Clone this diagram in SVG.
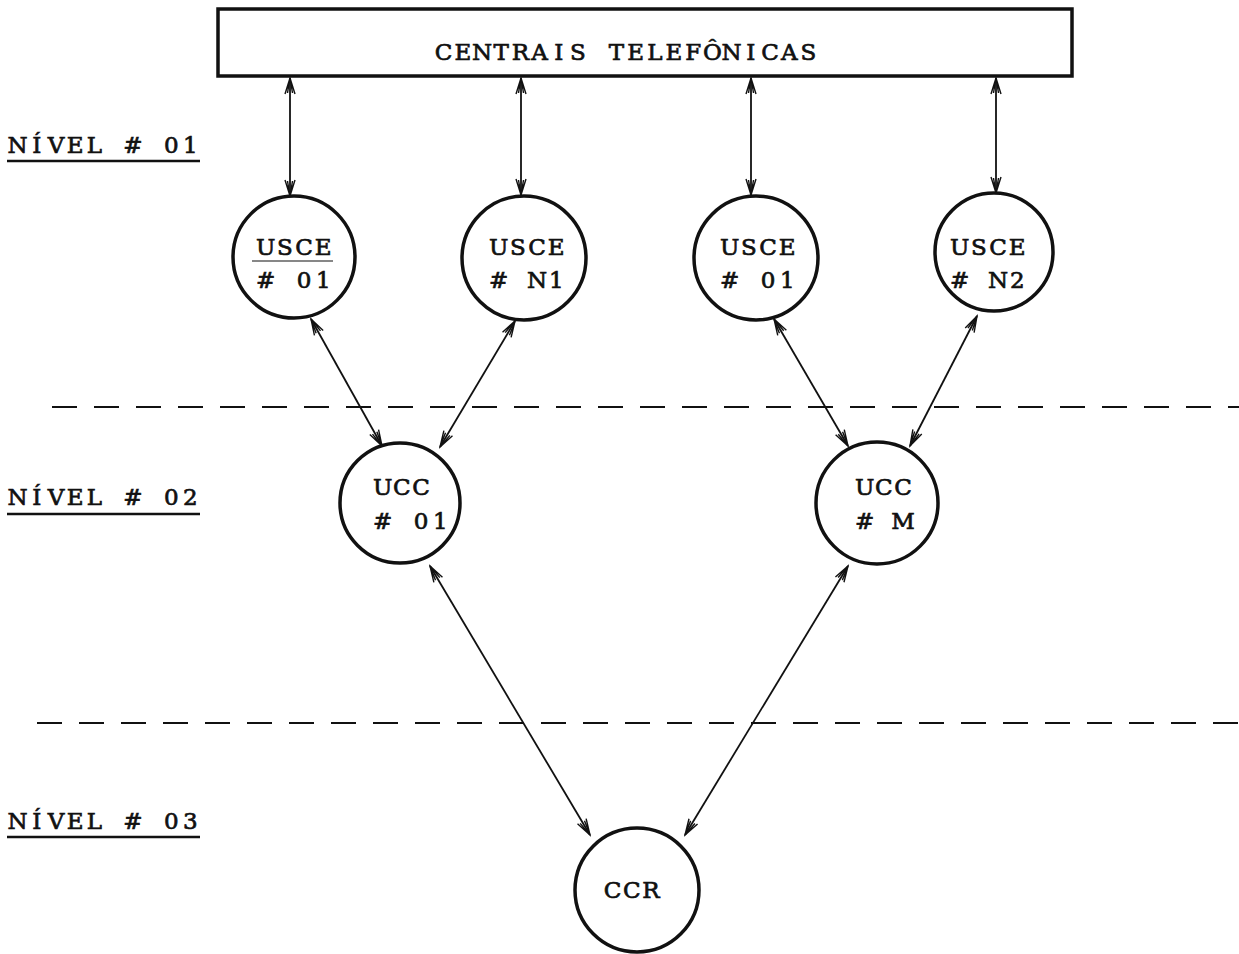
<svg xmlns="http://www.w3.org/2000/svg" width="1239" height="954" viewBox="0 0 1239 954">
<style>
  .t { font-family: "DejaVu Serif", "Liberation Serif", serif; font-size: 23px; fill: #111; stroke: #111; stroke-width: 0.7; text-anchor: middle; }
  .node { fill: #fff; stroke: #111; stroke-width: 3.5; }
  .conn { stroke: #111; stroke-width: 1.8; fill: none; marker-start: url(#ah); marker-end: url(#ah); }
  .dash { stroke: #111; stroke-width: 2; stroke-dasharray: 25 17; fill: none; }
  .ul { stroke: #111; stroke-width: 2.5; }
</style>
<defs>
  <marker id="ah" viewBox="-18 -7 20 14" refX="0" refY="0" markerWidth="20" markerHeight="14" markerUnits="userSpaceOnUse" orient="auto-start-reverse">
    <path d="M-16,-5 L0,0 L-16,5 M-15,-2.5 L0,0 L-15,2.5" fill="none" stroke="#111" stroke-width="1.4"/>
  </marker>
</defs>
<rect width="1239" height="954" fill="#fff"/>

<g id="levels">
  <text class="t" x="17.6 36.8 56 75.2 94.4 113.6 132.8 152 171.2 190.4" y="153">NÍVEL # 01</text>
  <line class="ul" x1="7" y1="161" x2="200" y2="161"/>
  <text class="t" x="17.6 36.8 56 75.2 94.4 113.6 132.8 152 171.2 190.4" y="505">NÍVEL # 02</text>
  <line class="ul" x1="7" y1="514" x2="200" y2="514"/>
  <text class="t" x="17.6 36.8 56 75.2 94.4 113.6 132.8 152 171.2 190.4" y="829">NÍVEL # 03</text>
  <line class="ul" x1="7" y1="837" x2="200" y2="837"/>
  <line class="dash" x1="52" y1="407" x2="1239" y2="407"/>
  <line class="dash" x1="37" y1="723" x2="1239" y2="723"/>
</g>

<g id="connectors">
  <line class="conn" x1="290" y1="78" x2="290" y2="196"/>
  <line class="conn" x1="521" y1="78" x2="521" y2="195"/>
  <line class="conn" x1="751" y1="78" x2="751" y2="195"/>
  <line class="conn" x1="996" y1="78" x2="996" y2="193"/>
  <line class="conn" x1="311" y1="319" x2="382" y2="446"/>
  <line class="conn" x1="515" y1="321" x2="440" y2="447"/>
  <line class="conn" x1="774" y1="319" x2="848" y2="446"/>
  <line class="conn" x1="977" y1="316" x2="910" y2="446"/>
  <line class="conn" x1="430" y1="566" x2="590" y2="835"/>
  <line class="conn" x1="848" y1="566" x2="685" y2="835"/>
</g>

<g id="centrais">
  <rect x="218" y="9" width="854" height="67" fill="#fff" stroke="#111" stroke-width="3.5"/>
  <text class="t" x="443.6 462.8 482 501.2 520.4 539.6 558.8 578 597.2 616.4 635.6 654.8 674 693.2 712.4 731.6 750.8 770 789.2 808.4" y="60">CENTRAIS TELEFÔNICAS</text>
</g>

<g id="usce1">
  <circle class="node" cx="294" cy="257" r="61"/>
  <text class="t" x="265.6 284.8 304 323.2" y="255">USCE</text>
  <line x1="252" y1="261" x2="333" y2="261" stroke="#111" stroke-width="1.2"/>
  <text class="t" x="265.6 284.8 304 323.2" y="288"># 01</text>
</g>
<g id="usceN1">
  <circle class="node" cx="524" cy="258" r="62"/>
  <text class="t" x="498.6 517.8 537 556.2" y="255">USCE</text>
  <text class="t" x="498.6 517.8 537 556.2" y="288"># N1</text>
</g>
<g id="usce1b">
  <circle class="node" cx="756" cy="258" r="62"/>
  <text class="t" x="729.6 748.8 768 787.2" y="255">USCE</text>
  <text class="t" x="729.6 748.8 768 787.2" y="288"># 01</text>
</g>
<g id="usceN2">
  <circle class="node" cx="994" cy="252" r="59"/>
  <text class="t" x="959.6 978.8 998 1017.2" y="255">USCE</text>
  <text class="t" x="959.6 978.8 998 1017.2" y="288"># N2</text>
</g>

<g id="ucc1">
  <circle class="node" cx="400" cy="503" r="60"/>
  <text class="t" x="382.6 401.8 421" y="495">UCC</text>
  <text class="t" x="382.6 401.8 421 440.2" y="529"># 01</text>
</g>
<g id="uccM">
  <circle class="node" cx="877" cy="503" r="61"/>
  <text class="t" x="864.6 883.8 903" y="495">UCC</text>
  <text class="t" x="864.6 883.8 903" y="529"># M</text>
</g>

<g id="ccr">
  <circle class="node" cx="637" cy="890" r="62"/>
  <text class="t" x="612.6 631.8 651" y="898">CCR</text>
</g>
</svg>
